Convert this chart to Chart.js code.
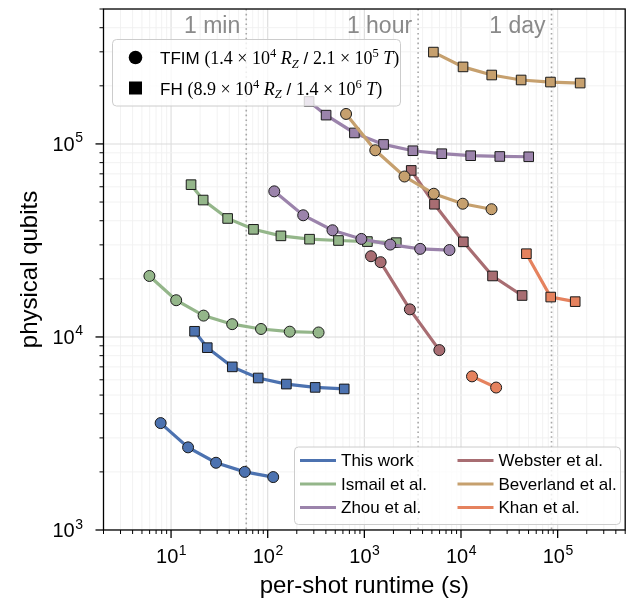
<!DOCTYPE html>
<html>
<head>
<meta charset="utf-8">
<title>Physical qubits vs per-shot runtime</title>
<script src="https://cdn.jsdelivr.net/npm/chart.js"></script>
<style>
  html, body { margin: 0; padding: 0; background: #fff; }
  canvas { display: block; }
</style>
</head>
<body>
<canvas id="chart" width="633" height="605"></canvas>
<script>
// ---- data ----
const authors = ['This work', 'Ismail et al.', 'Zhou et al.', 'Webster et al.', 'Beverland et al.', 'Khan et al.'];
const colors  = ['#4c72b0', '#94b68a', '#9b83ab', '#a86d72', '#c6a06e', '#e5825e'];

// TFIM (circles)
const thisWorkTfimX  = [7.8, 15.0, 29.2, 57.9, 114];
const thisWorkTfimY  = [3580, 2680, 2230, 2000, 1880];
const ismailTfimX    = [5.97, 11.3, 21.7, 42.9, 85.3, 169, 336];
const ismailTfimY    = [20700, 15500, 12900, 11650, 11000, 10650, 10550];
const zhouTfimX      = [117, 233, 468, 931, 1854, 3780, 7600];
const zhouTfimY      = [56800, 42700, 35700, 32200, 30100, 28600, 28200];
const websterTfimX   = [1172, 1473, 2958, 5970];
const websterTfimY   = [26200, 24400, 13900, 8550];
const beverlandTfimX = [647, 1297, 2602, 5230, 10430, 20700];
const beverlandTfimY = [143000, 92700, 67800, 55200, 49000, 45900];
const khanTfimX      = [13000, 23100];
const khanTfimY      = [6250, 5470];

// FH (squares)
const thisWorkFhX  = [17.5, 23.7, 43.0, 79.8, 156, 310, 619];
const thisWorkFhY  = [10700, 8800, 7000, 6130, 5700, 5480, 5380];
const ismailFhX    = [16.1, 21.5, 38.5, 71.3, 137, 271, 540, 1075, 2140];
const ismailFhY    = [61500, 51200, 41100, 36100, 33400, 32100, 31600, 31200, 30800];
const zhouFhX      = [268, 402, 789, 1581, 3178, 6325, 12600, 25200, 50200];
const zhouFhY      = [166000, 141000, 114000, 99400, 92200, 89000, 86900, 86100, 85800];
const websterFhX   = [3055, 5310, 10570, 21200, 42900];
const websterFhY   = [72900, 48700, 31100, 20700, 16400];
const beverlandFhX = [5180, 10500, 20800, 41900, 84300, 171000];
const beverlandFhY = [299000, 250600, 227500, 214400, 209200, 206700];
const khanFhX      = [47500, 84800, 152000];
const khanFhY      = [27000, 16100, 15240];

const tfimX = [thisWorkTfimX, ismailTfimX, zhouTfimX, websterTfimX, beverlandTfimX, khanTfimX];
const tfimY = [thisWorkTfimY, ismailTfimY, zhouTfimY, websterTfimY, beverlandTfimY, khanTfimY];
const fhX   = [thisWorkFhX, ismailFhX, zhouFhX, websterFhX, beverlandFhX, khanFhX];
const fhY   = [thisWorkFhY, ismailFhY, zhouFhY, websterFhY, beverlandFhY, khanFhY];

// axes
const xMin = 2, xMax = 5e5, yMin = 1e3, yMax = 5e5;
const xTickExps = [1, 2, 3, 4, 5];
const yTickExps = [3, 4, 5];
const timeMarks  = [60, 3600, 86400];
const timeLabels = ['1 min', '1 hour', '1 day'];
const xTitle = 'per-shot runtime (s)';
const yTitle = 'physical qubits';

const sans = '"Liberation Sans", Arial, Helvetica, sans-serif';
const serif = '"Liberation Serif", "DejaVu Serif", serif';

function series(xs, ys, color, style, label) {
  return {
    label: label,
    data: xs.map((x, i) => ({ x: x, y: ys[i] })),
    showLine: true,
    borderColor: color,
    borderWidth: 3.2,
    backgroundColor: color,
    pointStyle: style,
    pointRadius: style === 'rect' ? 6.8 : 5.5,
    pointBackgroundColor: color,
    pointBorderColor: '#1a1a1a',
    pointBorderWidth: 1,
    tension: 0
  };
}

const datasets = [];
authors.forEach((a, i) => datasets.push(series(tfimX[i], tfimY[i], colors[i], 'circle', a + ' TFIM')));
authors.forEach((a, i) => datasets.push(series(fhX[i], fhY[i], colors[i], 'rect', a + ' FH')));

function minorValues(min, max) {
  const out = [];
  for (let e = Math.floor(Math.log10(min)); e <= Math.ceil(Math.log10(max)); e++) {
    for (let k = 1; k <= 9; k++) {
      const v = k * Math.pow(10, e);
      if (v >= min * 0.999 && v <= max * 1.001) out.push({ v: v, major: k === 1 });
    }
  }
  return out;
}

function pow10Label(ctx, e, x, y, align) {
  ctx.textAlign = 'left';
  ctx.textBaseline = 'alphabetic';
  ctx.font = '20px ' + sans;
  const wb = ctx.measureText('10').width;
  ctx.font = '14px ' + sans;
  const we = ctx.measureText(String(e)).width;
  const x0 = align === 'center' ? x - (wb + we) / 2 : x - (wb + we);
  ctx.font = '20px ' + sans;
  ctx.fillText('10', x0, y);
  ctx.font = '14px ' + sans;
  ctx.fillText(String(e), x0 + wb + 0.5, y - 8.5);
}

function drawRich(ctx, parts, x, y) {
  ctx.textAlign = 'left';
  ctx.textBaseline = 'alphabetic';
  for (const p of parts) {
    ctx.font = p.f;
    ctx.fillText(p.t, x, y + (p.dy || 0));
    x += ctx.measureText(p.t).width;
  }
}

const backdrop = {
  id: 'backdrop',
  beforeDatasetsDraw(chart) {
    const { ctx, chartArea: a, scales: { x, y } } = chart;
    ctx.save();
    ctx.beginPath();
    ctx.rect(a.left, a.top, a.right - a.left, a.bottom - a.top);
    ctx.clip();
    // grid
    minorValues(xMin, xMax).forEach(t => {
      const px = x.getPixelForValue(t.v);
      ctx.strokeStyle = t.major ? '#dcdcdc' : '#f0f0f0';
      ctx.lineWidth = t.major ? 1.1 : 0.9;
      ctx.beginPath(); ctx.moveTo(px, a.top); ctx.lineTo(px, a.bottom); ctx.stroke();
    });
    minorValues(yMin, yMax).forEach(t => {
      const py = y.getPixelForValue(t.v);
      ctx.strokeStyle = t.major ? '#dcdcdc' : '#f0f0f0';
      ctx.lineWidth = t.major ? 1.1 : 0.9;
      ctx.beginPath(); ctx.moveTo(a.left, py); ctx.lineTo(a.right, py); ctx.stroke();
    });
    // time markers
    ctx.strokeStyle = '#a6a6a6';
    ctx.lineWidth = 1.6;
    ctx.setLineDash([1.6, 3.2]);
    timeMarks.forEach(v => {
      const px = x.getPixelForValue(v);
      ctx.beginPath(); ctx.moveTo(px, a.top); ctx.lineTo(px, a.bottom); ctx.stroke();
    });
    ctx.setLineDash([]);
    ctx.fillStyle = '#8a8a8a';
    ctx.font = '23px ' + sans;
    ctx.textAlign = 'right';
    ctx.textBaseline = 'alphabetic';
    timeMarks.forEach((v, i) => {
      ctx.fillText(timeLabels[i], x.getPixelForValue(v) - 6, 33);
    });
    ctx.restore();
  },
  afterDatasetsDraw(chart) {
    const { ctx, chartArea: a, scales: { x, y } } = chart;
    ctx.save();
    // marker legend (top-left)
    ctx.fillStyle = 'rgba(255,255,255,0.8)';
    ctx.strokeStyle = '#cccccc';
    ctx.lineWidth = 1;
    ctx.beginPath(); ctx.roundRect(112.5, 39.5, 288, 66.5, 4); ctx.fill(); ctx.stroke();
    ctx.fillStyle = '#000';
    ctx.beginPath(); ctx.arc(135.5, 57.5, 6.8, 0, Math.PI * 2); ctx.fill();
    ctx.fillRect(129, 81.5, 13, 13);
    const f = '17px ' + sans, m = '18px ' + serif, it = 'italic 18px ' + serif,
          sup = '12.5px ' + serif, sub = 'italic 12.5px ' + serif;
    drawRich(ctx, [
      { t: 'TFIM ', f: f }, { t: '(1.4 × 10', f: m }, { t: '4', f: sup, dy: -7 },
      { t: ' R', f: it }, { t: 'Z', f: sub, dy: 3.5 }, { t: ' / ', f: f },
      { t: '2.1 × 10', f: m }, { t: '5', f: sup, dy: -7 }, { t: ' T', f: it }, { t: ')', f: m }
    ], 160, 64);
    drawRich(ctx, [
      { t: 'FH ', f: f }, { t: '(8.9 × 10', f: m }, { t: '4', f: sup, dy: -7 },
      { t: ' R', f: it }, { t: 'Z', f: sub, dy: 3.5 }, { t: ' / ', f: f },
      { t: '1.4 × 10', f: m }, { t: '6', f: sup, dy: -7 }, { t: ' T', f: it }, { t: ')', f: m }
    ], 160, 94.5);

    // series legend (bottom-right)
    ctx.fillStyle = 'rgba(255,255,255,0.8)';
    ctx.strokeStyle = '#cccccc';
    ctx.beginPath(); ctx.roundRect(294.5, 447, 326, 77.5, 4); ctx.fill(); ctx.stroke();
    const colX = [300, 457.5], rowY = [460.5, 484, 507.5];
    ctx.font = '17px ' + sans;
    ctx.textAlign = 'left';
    ctx.textBaseline = 'middle';
    authors.forEach((name, i) => {
      const cx = colX[Math.floor(i / 3)], cy = rowY[i % 3];
      ctx.strokeStyle = colors[i];
      ctx.lineWidth = 3.2;
      ctx.beginPath(); ctx.moveTo(cx, cy); ctx.lineTo(cx + 36, cy); ctx.stroke();
      ctx.fillStyle = '#000';
      ctx.fillText(name, cx + 41, cy + 1);
    });

    // spines
    ctx.strokeStyle = '#000';
    ctx.lineWidth = 1.3;
    ctx.strokeRect(a.left, a.top, a.right - a.left, a.bottom - a.top);

    // ticks
    minorValues(xMin, xMax).forEach(t => {
      const px = x.getPixelForValue(t.v);
      ctx.lineWidth = t.major ? 1.3 : 1;
      ctx.beginPath(); ctx.moveTo(px, a.bottom); ctx.lineTo(px, a.bottom + (t.major ? 8 : 4)); ctx.stroke();
    });
    minorValues(yMin, yMax).forEach(t => {
      const py = y.getPixelForValue(t.v);
      ctx.lineWidth = t.major ? 1.3 : 1;
      ctx.beginPath(); ctx.moveTo(a.left, py); ctx.lineTo(a.left - (t.major ? 8 : 4), py); ctx.stroke();
    });

    // tick labels
    ctx.fillStyle = '#000';
    xTickExps.forEach(e => pow10Label(ctx, e, x.getPixelForValue(Math.pow(10, e)), a.bottom + 33, 'center'));
    yTickExps.forEach(e => pow10Label(ctx, e, a.left - 21, y.getPixelForValue(Math.pow(10, e)) + 7, 'right'));

    // axis titles
    ctx.font = '24px ' + sans;
    ctx.textAlign = 'center';
    ctx.textBaseline = 'alphabetic';
    ctx.fillText(xTitle, (a.left + a.right) / 2, 593);
    ctx.translate(37, (a.top + a.bottom) / 2);
    ctx.rotate(-Math.PI / 2);
    ctx.fillText(yTitle, 0, 0);
    ctx.restore();
  }
};

new Chart(document.getElementById('chart'), {
  type: 'scatter',
  data: { datasets: datasets },
  options: {
    responsive: false,
    animation: false,
    events: [],
    layout: { padding: { left: 103.5, right: 6, top: 9, bottom: 75 } },
    scales: {
      x: { type: 'logarithmic', min: xMin, max: xMax, display: false },
      y: { type: 'logarithmic', min: yMin, max: yMax, display: false }
    },
    plugins: { legend: { display: false }, tooltip: { enabled: false } }
  },
  plugins: [backdrop]
});
</script>
</body>
</html>
